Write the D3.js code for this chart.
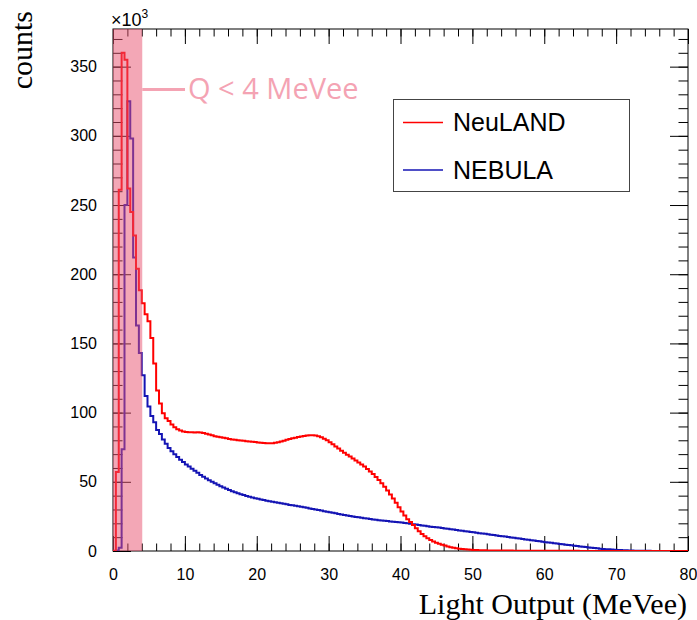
<!DOCTYPE html>
<html><head><meta charset="utf-8">
<script src="https://cdn.jsdelivr.net/npm/d3@7"></script>
<style>body{margin:0;background:#fff} svg{display:block}</style>
</head><body>
<script>
// ---- data (counts in units of 10^3, bins of 0.4 MeVee from 0 to 80) ----
const binWidth = 0.4;
const neulandCounts = [
0.2,57,261,360,355,262,245,228,204,188.5,
179,171,166,154,135.5,116,106.5,99.5,96,94,
91.5,89.5,88,87,86.3,86,85.8,85.8,85.7,85.8,
85.6,85.3,84.8,84.2,83.6,83.0,82.6,82.2,81.8,81.4,
81.0,80.6,80.3,80.1,79.9,79.6,79.3,79.1,78.9,78.7,
78.4,78.2,78.0,77.8,77.8,77.9,78.2,78.6,79.1,79.7,
80.3,80.9,81.4,81.9,82.3,82.7,83.1,83.4,83.6,83.6,
83.4,82.9,82.2,81.2,80.0,78.6,77.1,75.6,74.0,72.4,
71.0,69.6,68.2,66.8,65.4,64.0,62.5,61.0,59.3,57.5,
55.6,53.5,51.3,48.9,46.4,43.7,40.9,37.9,34.8,31.7,
28.6,25.6,23.0,21.0,18.8,16.4,14.2,12.3,10.7,9.3,
8.0,6.9,6.0,5.2,4.5,3.9,3.3,2.8,2.4,2.0,
1.7,1.4,1.2,1.0,0.85,0.75,0.65,0.58,0.52,0.47,
0.43,0.40,0.38,0.36,0.34,0.32,0.30,0.29,0.28,0.27,
0.26,0.25,0.24,0.23,0.22,0.21,0.20,0.19,0.18,0.17,
0.16,0.15,0.15,0.14,0.13,0.13,0.12,0.12,0.11,0.11,
0.10,0.10,0.09,0.09,0.09,0.08,0.08,0.08,0.07,0.07,
0.07,0.06,0.06,0.06,0.06,0.06,0.06,0.06,0.06,0.06,
0.05,0.05,0.05,0.05,0.05,0.05,0.05,0.05,0.05,0.05,
0.04,0.04,0.04,0.04,0.04,0.04,0.04,0.04,0.04,0.04
];
const nebulaCounts = [
0,0.3,2.4,73.5,250,325,298,212,163,143,
127,112,104.5,97.5,93,87.5,84.5,80.5,77.5,74.5,
72,70,68,66,64.3,62.5,61.0,59.5,58.0,56.5,
55.0,53.7,52.4,51.2,50.0,48.9,47.8,46.8,45.8,44.9,
44.0,43.2,42.4,41.7,41.0,40.4,39.8,39.2,38.7,38.2,
37.7,37.2,36.8,36.4,36.0,35.6,35.2,34.8,34.5,34.1,
33.7,33.3,33.0,32.7,32.4,32.0,31.6,31.2,30.8,30.4,
30.0,29.6,29.2,28.8,28.4,28.0,27.6,27.2,26.8,26.4,
26.0,25.7,25.3,25.0,24.6,24.3,24.0,23.7,23.4,23.1,
22.8,22.5,22.3,22.0,21.8,21.6,21.4,21.2,21.0,20.8,
20.6,20.3,20.0,19.7,19.4,19.1,18.8,18.5,18.2,17.9,
17.6,17.4,17.1,16.9,16.6,16.3,16.0,15.8,15.5,15.2,
14.9,14.6,14.3,14.1,13.8,13.5,13.2,12.9,12.6,12.4,
12.1,11.8,11.5,11.2,10.9,10.7,10.4,10.1,9.8,9.5,
9.2,9.0,8.7,8.4,8.1,7.8,7.5,7.3,7.0,6.7,
6.4,6.1,5.9,5.6,5.4,5.1,4.9,4.6,4.3,4.1,
3.8,3.6,3.3,3.1,2.9,2.6,2.4,2.2,1.9,1.7,
1.5,1.35,1.2,1.05,0.92,0.8,0.68,0.57,0.47,0.38,
0.30,0.25,0.21,0.18,0.15,0.13,0.11,0.09,0.08,0.07,
0.06,0.05,0.04,0.04,0.03,0.03,0.02,0.02,0.02,0.01
];
const seriesNames = ["NeuLAND", "NEBULA"];
const xTickValues = [0,10,20,30,40,50,60,70,80];
const yTickValues = [0,50,100,150,200,250,300,350];
const cutValue = 4;
const cutLabel = "Q < 4 MeVee";

// ---- layout ----
const W = 697, H = 620;
const L = 113, R = 688, T = 29, B = 551;
const colors = ["#ff0000", "#1414b4"];

const x = d3.scaleLinear().domain([0, 80]).range([L, R]);
const y = d3.scaleLinear().domain([0, 377.2]).range([B, T]);

const svg = d3.select("body").append("svg").attr("width", W).attr("height", H)
  .style("font-family", "'Liberation Sans', Arial, sans-serif");

svg.append("defs").append("clipPath").attr("id", "frame")
  .append("rect").attr("x", L).attr("y", T).attr("width", R - L).attr("height", B - T);

// ticks
function styleAxis(g) {
  g.select(".domain").remove();
  g.selectAll(".tick line").attr("stroke", "#000").attr("stroke-width", 1);
}
const minorX = d3.range(0, 81, 2);
const minorY = d3.range(0, 371, 10);

svg.append("g").attr("transform", `translate(0,${B})`)
  .call(d3.axisBottom(x).tickValues(minorX).tickSize(-7.5).tickFormat("")).call(styleAxis);
const xAx = svg.append("g").attr("transform", `translate(0,${B})`)
  .call(d3.axisBottom(x).tickValues(xTickValues).tickSize(-15).tickPadding(17.5).tickFormat(d3.format("d")))
  .call(styleAxis);
xAx.selectAll("text").attr("font-size", 16).attr("fill", "#000")
  .style("font-family", "'Liberation Sans', Arial, sans-serif");

svg.append("g").attr("transform", `translate(0,${T})`)
  .call(d3.axisTop(x).tickValues(minorX).tickSize(-7.5).tickFormat("")).call(styleAxis);
svg.append("g").attr("transform", `translate(0,${T})`)
  .call(d3.axisTop(x).tickValues(xTickValues).tickSize(-15).tickFormat("")).call(styleAxis);

svg.append("g").attr("transform", `translate(${L},0)`)
  .call(d3.axisLeft(y).tickValues(minorY).tickSize(-9.5).tickFormat("")).call(styleAxis);
const yAx = svg.append("g").attr("transform", `translate(${L},0)`)
  .call(d3.axisLeft(y).tickValues(yTickValues).tickSize(-18).tickPadding(16).tickFormat(d3.format("d")))
  .call(styleAxis);
yAx.selectAll("text").attr("font-size", 16).attr("fill", "#000")
  .style("font-family", "'Liberation Sans', Arial, sans-serif");

svg.append("g").attr("transform", `translate(${R},0)`)
  .call(d3.axisRight(y).tickValues(minorY).tickSize(-9.5).tickFormat("")).call(styleAxis);
svg.append("g").attr("transform", `translate(${R},0)`)
  .call(d3.axisRight(y).tickValues(yTickValues).tickSize(-18).tickFormat("")).call(styleAxis);

// frame
svg.append("rect").attr("x", L).attr("y", T).attr("width", R - L).attr("height", B - T)
  .attr("fill", "none").attr("stroke", "#000").attr("stroke-width", 1);

// histograms
const stepLine = d3.line().x(d => x(d[0])).y(d => y(d[1])).curve(d3.curveStepAfter);
function histPoints(vals) {
  const pts = vals.map((v, i) => [i * binWidth, v]);
  pts.push([vals.length * binWidth, vals[vals.length - 1]]);
  return pts;
}
const hg = svg.append("g").attr("clip-path", "url(#frame)");
[nebulaCounts, neulandCounts].forEach((vals, k) => {
  hg.append("path").attr("d", stepLine(histPoints(vals)))
    .attr("fill", "none").attr("stroke", colors[1 - k]).attr("stroke-width", 2)
    .attr("stroke-linejoin", "miter");
});

// cut band
svg.append("rect").attr("x", x(0)).attr("y", T).attr("width", x(cutValue) - x(0) + 0.5).attr("height", B - T)
  .attr("fill", "#e8506e").attr("fill-opacity", 0.5);
svg.append("line").attr("x1", x(cutValue) + 0.5).attr("x2", 185).attr("y1", 89.5).attr("y2", 89.5)
  .attr("stroke", "#f4a3b3").attr("stroke-width", 3);
svg.append("text").attr("x", 188).attr("y", 98.5).text(cutLabel)
  .attr("fill", "#f4a3b3").attr("font-size", 29)
  .style("font-family", "'Open Sans', sans-serif");

// exponent label
const ex = svg.append("text").attr("x", 111).attr("y", 26).attr("font-size", 18).attr("fill", "#000");
ex.append("tspan").text("\u00d710");
ex.append("tspan").text("3").attr("font-size", 12).attr("dy", -8);

// legend
const lg = svg.append("g");
lg.append("rect").attr("x", 393.5).attr("y", 99.5).attr("width", 236).attr("height", 92)
  .attr("fill", "#fff").attr("stroke", "#444").attr("stroke-width", 1);
seriesNames.forEach((name, i) => {
  const cy = 122.5 + i * 47.5;
  lg.append("line").attr("x1", 403).attr("x2", 443).attr("y1", cy).attr("y2", cy)
    .attr("stroke", colors[i]).attr("stroke-width", 1.5);
  lg.append("text").attr("x", 453).attr("y", cy + 8.5).text(name)
    .attr("font-size", 25).attr("fill", "#000");
});

// titles
svg.append("text").attr("x", 687).attr("y", 614).attr("text-anchor", "end")
  .attr("font-size", 30).style("font-family", "'Liberation Serif', 'Times New Roman', serif")
  .text("Light Output (MeVee)");
svg.append("text").attr("transform", "translate(32,11) rotate(-90)").attr("text-anchor", "end")
  .attr("font-size", 30).style("font-family", "'Liberation Serif', 'Times New Roman', serif")
  .text("counts");
</script>
</body></html>
